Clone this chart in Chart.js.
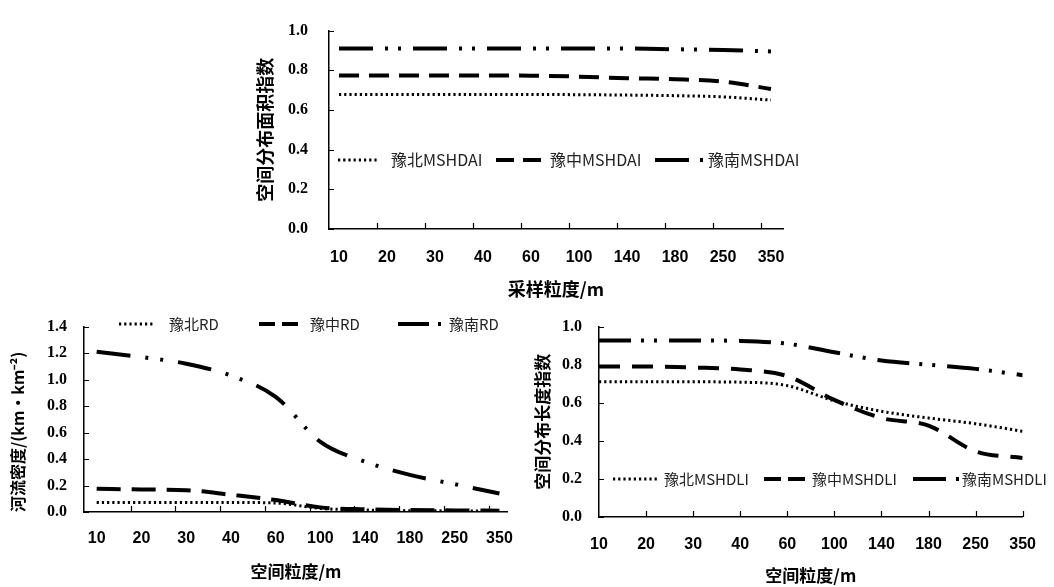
<!DOCTYPE html>
<html>
<head>
<meta charset="utf-8">
<script src="https://cdn.jsdelivr.net/npm/chart.js@4.4.1/dist/chart.umd.min.js"></script>
<style>
html, body { margin: 0; padding: 0; background: #fff; width: 1054px; height: 587px; overflow: hidden; }
canvas { position: absolute; }
</style>
</head>
<body>
<canvas id="cArea" width="570" height="300" style="left:240px;top:0"></canvas>
<canvas id="cRD" width="530" height="287" style="left:0;top:300px"></canvas>
<canvas id="cLen" width="534" height="287" style="left:520px;top:300px"></canvas>
<script>
// 粒度（x 轴标签）
const grains = ['10', '20', '30', '40', '60', '100', '140', '180', '250', '350'];
const regions = ['豫北', '豫中', '豫南'];

// 空间分布面积指数 MSHDAI
const mshdaiNorth   = [0.678, 0.678, 0.678, 0.678, 0.678, 0.677, 0.675, 0.672, 0.666, 0.650];
const mshdaiCentral = [0.774, 0.774, 0.774, 0.774, 0.773, 0.768, 0.760, 0.755, 0.743, 0.706];
const mshdaiSouth   = [0.910, 0.910, 0.910, 0.910, 0.910, 0.910, 0.910, 0.906, 0.902, 0.895];

// 河流密度 RD
const rdNorth   = [0.072, 0.072, 0.072, 0.072, 0.068, 0.027, 0.015, 0.010, 0.008, 0.006];
const rdCentral = [0.175, 0.170, 0.165, 0.130, 0.090, 0.035, 0.020, 0.015, 0.012, 0.010];
const rdSouth   = [1.21, 1.17, 1.12, 1.03, 0.87, 0.53, 0.38, 0.28, 0.21, 0.14];

// 空间分布长度指数 MSHDLI
const mshdliNorth   = [0.710, 0.710, 0.710, 0.708, 0.690, 0.610, 0.555, 0.520, 0.490, 0.450];
const mshdliCentral = [0.790, 0.790, 0.785, 0.775, 0.740, 0.615, 0.520, 0.480, 0.345, 0.310];
const mshdliSouth   = [0.927, 0.927, 0.927, 0.925, 0.910, 0.865, 0.822, 0.800, 0.778, 0.745];

// 刻度线画在坐标轴内侧
const innerTicks = {
    id: 'innerTicks',
    afterDraw(chart, args, opts) {
        const { ctx, chartArea: a, scales: { x, y } } = chart;
        ctx.save();
        ctx.strokeStyle = '#000';
        ctx.lineWidth = 1.2;
        ctx.beginPath();
        (opts.xAt || []).forEach(v => {
            const px = Math.round(x.getPixelForValue(v)) + 0.5;
            ctx.moveTo(px, a.bottom);
            ctx.lineTo(px, a.bottom - 6);
        });
        y.ticks.forEach(t => {
            const py = Math.round(y.getPixelForValue(t.value)) + 0.5;
            ctx.moveTo(a.left, py);
            ctx.lineTo(a.left + 5, py);
        });
        ctx.stroke();
        ctx.restore();
    }
};

// 图例放在绘图区内部
const boxLegend = {
    id: 'boxLegend',
    afterDatasetsDraw(chart, args, opts) {
        const ctx = chart.ctx;
        ctx.save();
        ctx.font = opts.font;
        ctx.fillStyle = '#222';
        ctx.textBaseline = 'middle';
        chart.data.datasets.forEach((ds, i) => {
            const it = opts.items[i];
            ctx.beginPath();
            ctx.setLineDash(it.dash);
            ctx.lineWidth = ds.borderWidth;
            ctx.strokeStyle = ds.borderColor;
            ctx.moveTo(it.sx, opts.y);
            ctx.lineTo(it.sx + it.sw, opts.y);
            ctx.stroke();
            ctx.setLineDash([]);
            ctx.fillText(ds.label, it.tx, opts.y);
        });
        ctx.restore();
    }
};

const widths = [3, 4, 4];

function makeChart(id, cfg) {
    return new Chart(document.getElementById(id), {
        type: 'line',
        data: {
            datasets: cfg.series.map((s, i) => ({
                label: regions[i] + cfg.suffix,
                data: s.map((v, k) => ({ x: k, y: v })),
                borderColor: '#000',
                borderWidth: widths[i],
                borderDash: cfg.dash[i],
                borderCapStyle: 'butt',
                pointRadius: 0,
                cubicInterpolationMode: 'monotone',
                fill: false
            }))
        },
        options: {
            responsive: false,
            animation: false,
            layout: { padding: cfg.pad, autoPadding: false },
            plugins: {
                legend: { display: false },
                tooltip: { enabled: false },
                innerTicks: { xAt: cfg.tickAt },
                boxLegend: cfg.legend
            },
            scales: {
                x: {
                    type: 'linear',
                    min: cfg.xMin,
                    max: cfg.xMax,
                    afterBuildTicks: s => { s.ticks = grains.map((g, k) => ({ value: k })); },
                    afterFit: s => { s.height = cfg.xH; },
                    grid: { display: false, drawTicks: false },
                    border: { display: true, color: '#000', width: 1.5 },
                    ticks: {
                        autoSkip: false, maxRotation: 0, padding: cfg.xPad, color: '#000',
                        font: { family: 'Liberation Sans', weight: 'bold', size: 16 },
                        callback: v => grains[v]
                    },
                    title: {
                        display: true, text: cfg.xTitle, color: '#000',
                        font: { family: 'Noto Sans CJK SC', weight: 'bold', size: cfg.xtSize, lineHeight: 1.2 },
                        padding: { top: 0, bottom: cfg.xtPad }
                    }
                },
                y: {
                    min: 0,
                    max: cfg.yMax,
                    afterFit: s => { s.width = cfg.yW; },
                    grid: { display: false, drawTicks: false },
                    border: { display: true, color: '#000', width: 1.5 },
                    ticks: {
                        stepSize: 0.2, padding: cfg.yPad, color: '#000',
                        font: { family: 'Liberation Serif', weight: 'bold', size: 16 },
                        callback: v => v.toFixed(1)
                    },
                    title: {
                        display: true, text: cfg.yTitle, color: '#000', align: cfg.ytAlign || 'center',
                        font: { family: 'Noto Sans CJK SC', weight: 'bold', size: cfg.ytSize, lineHeight: 1.2 },
                        padding: { top: cfg.ytPad, bottom: 0 }
                    }
                }
            }
        },
        plugins: [innerTicks, boxLegend]
    });
}

const dotted = [2.2, 3];

makeChart('cArea', {
    series: [mshdaiNorth, mshdaiCentral, mshdaiSouth],
    suffix: 'MSHDAI',
    dash: [dotted, [20, 10], [34, 12, 3, 10, 3, 12]],
    pad: { left: 0, top: 14, right: 27, bottom: 0 },
    xMin: -0.208, xMax: 9.25, xH: 71, xPad: 19,
    tickAt: [0.79, 1.79, 2.79, 3.79, 4.79, 5.79, 6.79, 7.79, 8.79],
    xTitle: '采样粒度/m', xtSize: 18, xtPad: 0,
    yMax: 1.0, yW: 89, yPad: 21,
    yTitle: '空间分布面积指数', ytSize: 18, ytPad: 14,
    legend: {
        y: 160, font: '16px "Noto Sans CJK SC"',
        items: [
            { sx: 98, sw: 39, tx: 151, dash: dotted },
            { sx: 256, sw: 45, tx: 310, dash: [18, 9] },
            { sx: 415, sw: 48, tx: 468, dash: [34, 11, 3, 100] }
        ]
    }
});

makeChart('cRD', {
    series: [rdNorth, rdCentral, rdSouth],
    suffix: 'RD',
    dash: [dotted, [24, 11], [34, 15, 3, 12, 3, 15]],
    pad: { left: 0, top: 17, right: 11, bottom: 0 },
    xMin: -0.283, xMax: 9.19, xH: 75, xPad: 17,
    tickAt: [0.76, 1.76, 2.76, 3.76, 4.76, 5.76, 6.76, 7.76, 8.76],
    xTitle: '空间粒度/m', xtSize: 17, xtPad: 5,
    yMax: 1.4, yW: 84, yPad: 17,
    yTitle: '河流密度/(km·km⁻²)', ytSize: 16, ytPad: 8, ytAlign: 'start',
    legend: {
        y: 24, font: '15px "Noto Sans CJK SC"',
        items: [
            { sx: 119, sw: 34, tx: 169, dash: dotted },
            { sx: 259, sw: 39, tx: 310, dash: [16, 7] },
            { sx: 398, sw: 43, tx: 449, dash: [31, 9, 3, 100] }
        ]
    }
});

makeChart('cLen', {
    series: [mshdliNorth, mshdliCentral, mshdliSouth],
    suffix: 'MSHDLI',
    dash: [dotted, [21, 12], [32, 10, 3, 10, 3, 12]],
    pad: { left: 0, top: 13, right: 19, bottom: 0 },
    xMin: 0, xMax: 9, xH: 70, xPad: 18,
    tickAt: [1, 2, 3, 4, 5, 6, 7, 8, 9],
    xTitle: '空间粒度/m', xtSize: 17, xtPad: 1,
    yMax: 1.0, yW: 79, yPad: 17,
    yTitle: '空间分布长度指数', ytSize: 17, ytPad: 12,
    legend: {
        y: 179, font: '15px "Noto Sans CJK SC"',
        items: [
            { sx: 93, sw: 44, tx: 144, dash: dotted },
            { sx: 244, sw: 41, tx: 292, dash: [17, 7] },
            { sx: 393, sw: 46, tx: 442, dash: [33, 10, 3, 100] }
        ]
    }
});
</script>
</body>
</html>
